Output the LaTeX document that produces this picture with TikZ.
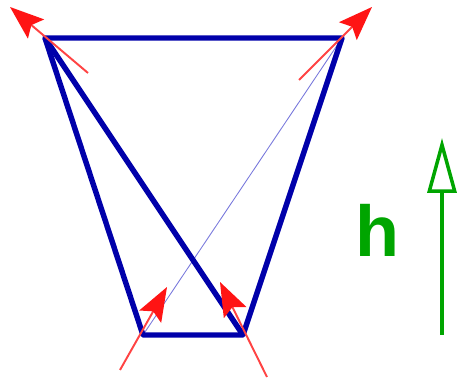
\documentclass[tikz,border=0pt]{standalone}
\usepackage{fontspec}
\setmainfont{Liberation Sans}
\usetikzlibrary{arrows.meta}
\definecolor{trblue}{RGB}{0,0,170}
\definecolor{trthin}{RGB}{120,120,220}
\definecolor{trred}{RGB}{255,20,20}
\definecolor{trgreen}{RGB}{0,165,0}

\begin{document}
\begin{tikzpicture}[
  x=0.02cm, y=-0.02cm,
  edge/.style={draw=trblue, line width=3.1pt, line join=round},
  thinedge/.style={draw=trthin, line width=0.5pt},
  vel/.style={draw=trred!80, line width=1.1pt, -{Stealth[length=6.8mm, width=5mm, inset=1.2mm, color=trred, fill=trred]}},
  harr/.style={draw=trgreen, line width=2.6pt, -{Triangle[open, length=11mm, width=5.8mm, line width=2pt]}},
]
  \useasboundingbox (0,0) rectangle (457,381);
  % trapezoid corners
  \coordinate (tl) at (45,38);
  \coordinate (tr) at (342,38);
  \coordinate (br) at (243,335);
  \coordinate (bl) at (143,335);

  \draw[thinedge] (bl) -- (tr);
  \draw[edge] (tl) -- (tr) -- (br) -- (bl) -- cycle;
  \draw[edge] (tl) -- (br);

  % red arrows
  \coordinate (a1) at (88,73);   \coordinate (b1) at (10,7);
  \coordinate (a2) at (299,80);  \coordinate (b2) at (372,7);
  \coordinate (a3) at (120,370); \coordinate (b3) at (167,287);
  \coordinate (a4) at (267,377); \coordinate (b4) at (220,282);
  \draw[vel] (a1) -- (b1);
  \draw[vel] (a2) -- (b2);
  \draw[vel] (a3) -- (b3);
  \draw[vel] (a4) -- (b4);

  % height
  \node[text=trgreen, font=\fontsize{41}{41}\selectfont\bfseries] (hlab) at (377,230) {h};
  \coordinate (hbot) at (442,335);
  \coordinate (htop) at (442,138);
  \draw[harr] (hbot) -- (htop);
\end{tikzpicture}
\end{document}
